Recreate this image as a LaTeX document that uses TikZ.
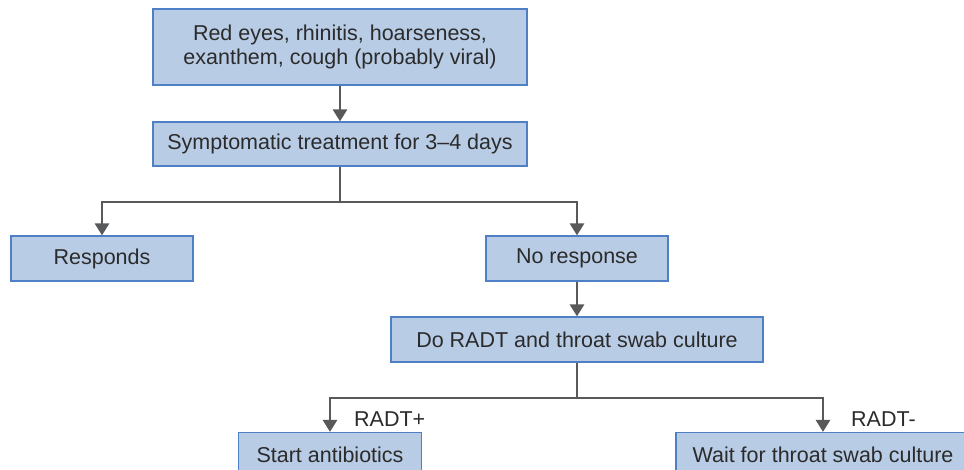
\documentclass[tikz,border=0pt]{standalone}
\usepackage{fontspec}
\setmainfont{Liberation Sans}
\usetikzlibrary{arrows.meta}
\definecolor{boxfill}{HTML}{B9CCE6}
\definecolor{boxline}{HTML}{4F7FC4}
\definecolor{arrowgray}{HTML}{58595B}
\definecolor{textgray}{HTML}{2B2B2B}
\tikzset{
  flowbox/.style={draw=boxline, line width=1.2pt, fill=boxfill, inner sep=0pt,
    font=\fontsize{21.5}{24}\selectfont, text=textgray, align=center},
  flowarrow/.style={draw=arrowgray, line width=2.8pt,
    -{Triangle[width=14pt,length=12pt]}},
  flowline/.style={draw=arrowgray, line width=2.8pt},
  branchlabel/.style={font=\fontsize{21.5}{24}\selectfont, text=textgray, anchor=west, inner sep=0pt}
}
\begin{document}
\begin{tikzpicture}[x=1pt,y=-1pt]
\useasboundingbox (0,0) rectangle (964,469);
\node[flowbox, minimum width=374pt, minimum height=76pt] (b1) at (340,47)
  {Red eyes, rhinitis, hoarseness,\\exanthem, cough (probably viral)};
\node[flowbox, minimum width=374pt, minimum height=44pt] (b2) at (340,144)
  {Symptomatic treatment for 3--4 days};
\node[flowbox, minimum width=182pt, minimum height=45pt] (resp) at (102,258.5)
  {Responds};
\node[flowbox, minimum width=182pt, minimum height=45pt] (nores) at (577,258.5)
  {No response};
\node[flowbox, minimum width=372pt, minimum height=45pt] (radt) at (577,339.5)
  {Do RADT and throat swab culture};
\node[flowbox, minimum width=183pt, minimum height=45pt] (start) at (330,455)
  {Start antibiotics};
\node[flowbox, minimum width=294pt, minimum height=45pt] (wait) at (823,455)
  {Wait for throat swab culture};
\coordinate (split1) at (340,202);
\coordinate (split2) at (577,398);
\draw[flowarrow] (b1.south) -- (b2.north);
\draw[flowline] (b2.south) -- (split1);
\draw[flowarrow] (split1) -| (resp.north);
\draw[flowarrow] (split1) -| (nores.north);
\draw[flowarrow] (nores.south) -- (radt.north);
\draw[flowline] (radt.south) -- (split2);
\draw[flowarrow] (split2) -| (start.north);
\draw[flowarrow] (split2) -| (wait.north);
\node[branchlabel] (lplus) at (354,419) {RADT+};
\node[branchlabel] (lminus) at (851,419) {RADT-};
\end{tikzpicture}
\end{document}
